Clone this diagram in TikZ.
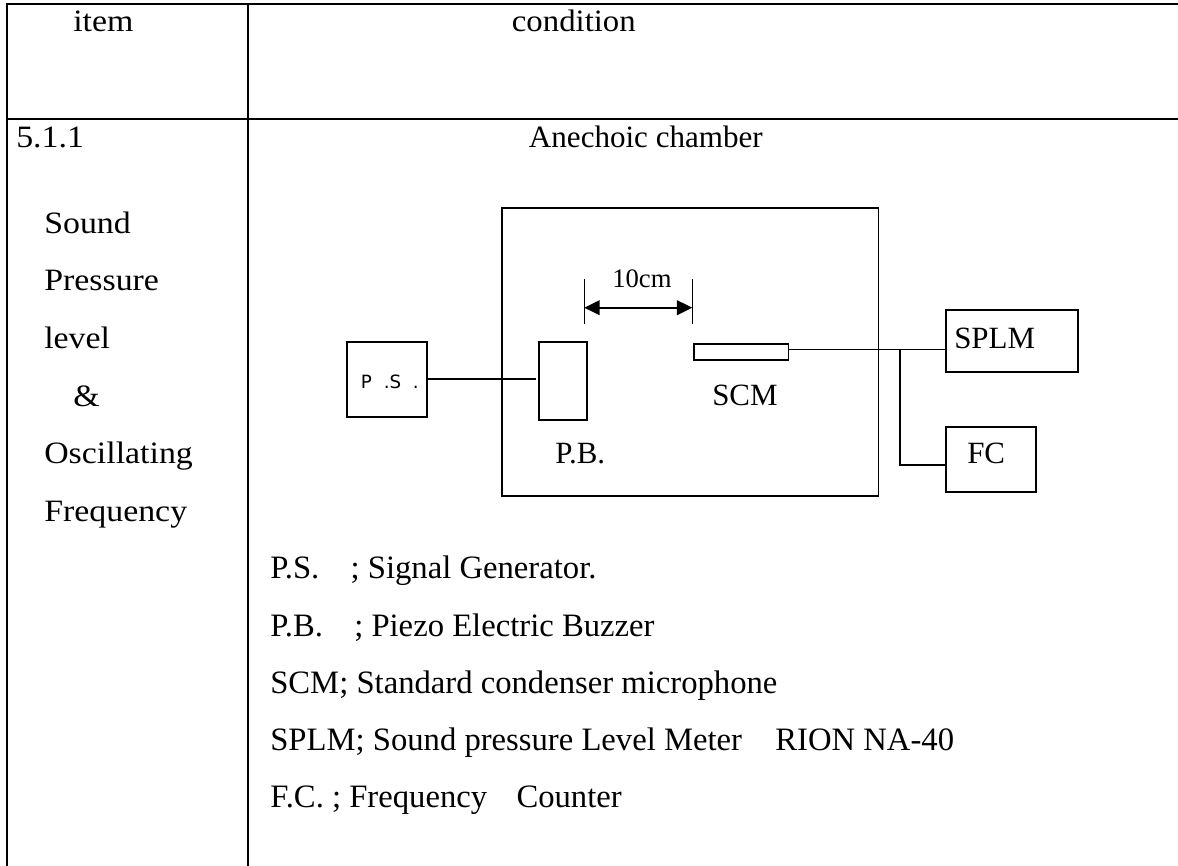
\documentclass[tikz,border=0pt]{standalone}
\usepackage{fontspec}
\usetikzlibrary{arrows.meta}
\newfontfamily\timesfam{Liberation Serif}
\newfontfamily\widefam[FakeStretch=1.09]{Liberation Serif}
\newfontfamily\midfam[FakeStretch=1.055]{Liberation Serif}
\newfontfamily\sansfam{DejaVu Sans}
\tikzset{
  x=0.75pt,y=-0.75pt,
  grid/.style={line width=1.7pt,line cap=rect},
  wire/.style={line width=1.3pt},
  devbox/.style={draw,line width=1.3pt,rectangle,inner sep=0pt,outer sep=0pt,anchor=north west},
  headtext/.style={inner sep=0pt,anchor=base west,font=\widefam\fontsize{23.3pt}{28pt}\selectfont},
  labeltext/.style={inner sep=0pt,anchor=base west,font=\timesfam\fontsize{23.2pt}{28pt}\selectfont},
  legendtext/.style={inner sep=0pt,anchor=base west,font=\timesfam\fontsize{24.5pt}{28pt}\selectfont},
}
\begin{document}
\begin{tikzpicture}
\useasboundingbox (0,0) rectangle (1178,866);
% table rules
\draw[grid] (1178,4) -- (6.7,4) -- (6.7,866);
\draw[grid] (248,4) -- (248,866);
\draw[grid] (6.7,119.3) -- (1178,119.3);
% table texts
\node[headtext] (hitem) at (73,32) {item};
\node[headtext,anchor=base east,font=\midfam\fontsize{23.3pt}{28pt}\selectfont] (hcond) at (636,32) {condition};
\node[headtext] (num) at (16,148) {5.1.1};
\node[headtext,anchor=base east,font=\timesfam\fontsize{23.3pt}{28pt}\selectfont] (anech) at (763,148) {Anechoic chamber};
\node[headtext] (l1) at (44,234) {Sound};
\node[headtext] (l2) at (44,291) {Pressure};
\node[headtext] (l3) at (44,349) {level};
\node[headtext] (l4) at (73,406) {\&};
\node[headtext] (l5) at (44,463) {Oscillating};
\node[headtext] (l6) at (44,521) {Frequency};
% boxes
\node[devbox,minimum width=282.5pt,minimum height=216pt] (chamber) at (501.7,207.7) {};
\node[devbox,minimum width=60.2pt,minimum height=56.2pt] (ps) at (346.7,342.3) {};
\node[devbox,minimum width=36pt,minimum height=58.7pt] (pb) at (539.3,341.7) {};
\node[devbox,minimum width=71pt,minimum height=12pt] (scm) at (693.7,343.7) {};
\node[devbox,minimum width=99pt,minimum height=46.5pt] (splm) at (946,309.7) {};
\node[devbox,minimum width=67.7pt,minimum height=48.5pt] (fc) at (946,427) {};
% box texts
\node[inner sep=0pt,anchor=base west,font=\sansfam\fontsize{13.7pt}{16pt}\selectfont] (tps) at (360.7,388) {P\hspace{4.5pt} .S\hspace{4.5pt} .};
\node[labeltext] (tpb) at (555,463) {P.B.};
\node[labeltext] (tscm) at (712,405.7) {SCM};
\node[labeltext] (tsplm) at (954,349) {SPLM};
\node[labeltext] (tfc) at (967,463) {FC};
\node[labeltext,font=\timesfam\fontsize{20pt}{24pt}\selectfont] (tdim) at (612,288) {10cm};
% connectors
\coordinate (psy) at (480,378.7);
\coordinate (pbend) at (536,378.7);
\draw[wire] (ps.east |- psy) -- (pbend);
\coordinate (jn) at (900,349.5);
\coordinate (fcy) at (900,465.3);
\draw[wire] (scm.east |- jn) -- (jn) -- (splm.west |- jn);
\draw[wire] (jn) -- (fcy) -- (fc.west |- fcy);
% dimension
\coordinate (t1a) at (584.3,279.3);
\coordinate (t1b) at (584.3,324);
\coordinate (t2a) at (692.3,279.3);
\coordinate (t2b) at (692.3,324);
\coordinate (d1) at (584.3,307.7);
\coordinate (d2) at (692.3,307.7);
\draw[line width=1pt] (t1a) -- (t1b);
\draw[line width=1pt] (t2a) -- (t2b);
\draw[wire,{Triangle[length=11.5pt,width=11pt]}-{Triangle[length=11.5pt,width=11pt]}] (d1) -- (d2);
% legend
\node[legendtext] (k1) at (270,578) {P.S.\hspace{23.5pt}; Signal Generator.};
\node[legendtext] (k2) at (270,636) {P.B.\hspace{23.5pt}; Piezo Electric Buzzer};
\node[legendtext] (k3) at (270,693) {SCM; Standard condenser microphone};
\node[legendtext] (k4) at (270,750) {SPLM; Sound pressure Level Meter\hspace{25pt}RION NA-40};
\node[legendtext] (k5) at (270,807) {F.C. ; Frequency\hspace{22pt}Counter};
\end{tikzpicture}
\end{document}
